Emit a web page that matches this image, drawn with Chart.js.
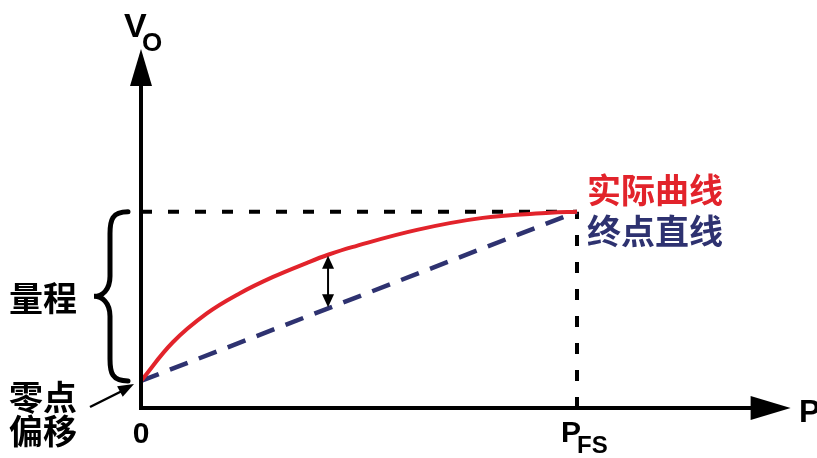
<!DOCTYPE html>
<html>
<head>
<meta charset="utf-8">
<script src="https://cdn.jsdelivr.net/npm/chart.js@4"></script>
<style>
  body { margin: 0; background: #fff; }
</style>
</head>
<body>
<canvas id="chart" width="817" height="458"></canvas>
<script>
const curveX = [0, 0.73, 1.51, 2.27, 3.03, 3.81, 4.29, 4.84, 6.33, 7.84, 9.38, 10];
const curveY = [1.38, 3.35, 4.82, 5.85, 6.68, 7.40, 7.81, 8.20, 9.08, 9.69, 9.95, 10];
// end point straight line
const endLineX = [0, 10];
const endLineY = [1.38, 10];
// full scale guides
const spanX = [0, 10];
const spanY = [10, 10];
const fsX = [10, 10];
const fsY = [0, 10];
// double arrow between curve and line
const gapX = 4.29;
const gapY = [5.08, 7.81];
// axis arrow tips
const axisTipX = 14.9;
const axisTipY = 18.3;

const RED = '#e2232b';
const NAVY = '#2e3270';
const LATIN = '"Liberation Sans", Arial, sans-serif';
const CJK = '"Noto Sans CJK SC", sans-serif';

const toPts = (xs, ys) => xs.map((x, i) => ({ x: x, y: ys[i] }));

function arrowHead(ctx, x, y, dx, dy, len, half) {
  ctx.beginPath();
  ctx.moveTo(x, y);
  ctx.lineTo(x - dx * len - dy * half, y - dy * len + dx * half);
  ctx.lineTo(x - dx * len + dy * half, y - dy * len - dx * half);
  ctx.closePath();
  ctx.fill();
}

const decor = {
  id: 'decor',
  afterDatasetsDraw(chart) {
    const ctx = chart.ctx;
    const sx = chart.scales.x, sy = chart.scales.y;
    const x0 = sx.getPixelForValue(0), y0 = sy.getPixelForValue(0);
    ctx.save();
    ctx.strokeStyle = '#000';
    ctx.fillStyle = '#000';
    ctx.lineCap = 'butt';

    // axes
    const tipY = sy.getPixelForValue(axisTipY);
    const tipX = sx.getPixelForValue(axisTipX);
    ctx.lineWidth = 4;
    ctx.beginPath();
    ctx.moveTo(x0, y0 + 2);
    ctx.lineTo(x0, tipY + 30);
    ctx.moveTo(x0 - 2, y0);
    ctx.lineTo(tipX - 30, y0);
    ctx.stroke();
    arrowHead(ctx, x0, tipY, 0, -1, 37, 11);
    arrowHead(ctx, tipX, y0, 1, 0, 40, 12);

    // double arrow
    const gx = sx.getPixelForValue(gapX);
    const ga = sy.getPixelForValue(gapY[0]) - 1;
    const gb = sy.getPixelForValue(gapY[1]) + 1;
    ctx.lineWidth = 2;
    ctx.beginPath();
    ctx.moveTo(gx, ga - 10);
    ctx.lineTo(gx, gb + 10);
    ctx.stroke();
    arrowHead(ctx, gx, ga, 0, 1, 13, 6);
    arrowHead(ctx, gx, gb, 0, -1, 13, 6);

    // brace for span
    const bt = sy.getPixelForValue(spanY[0]);
    const bb = sy.getPixelForValue(endLineY[0]);
    const bm = (bt + bb) / 2;
    ctx.lineWidth = 5;
    ctx.lineCap = 'round';
    ctx.beginPath();
    ctx.moveTo(128, bt);
    ctx.bezierCurveTo(112, bt, 110, bt + 8, 110, bt + 22);
    ctx.lineTo(110, bm - 20);
    ctx.bezierCurveTo(110, bm - 6, 102, bm, 94, bm);
    ctx.bezierCurveTo(102, bm, 110, bm + 6, 110, bm + 20);
    ctx.lineTo(110, bb - 22);
    ctx.bezierCurveTo(110, bb - 8, 112, bb, 128, bb);
    ctx.stroke();

    // pointer to zero offset
    ctx.lineWidth = 2.5;
    ctx.lineCap = 'butt';
    ctx.beginPath();
    ctx.moveTo(90, 407);
    ctx.lineTo(122, 391);
    ctx.stroke();
    arrowHead(ctx, x0 - 7, bb + 3, 0.88, -0.47, 16, 6);

    // texts
    ctx.textBaseline = 'alphabetic';
    ctx.textAlign = 'left';
    ctx.font = 'bold 34px ' + LATIN;
    ctx.fillText('V', 124, 37);
    ctx.font = 'bold 26px ' + LATIN;
    ctx.fillText('O', 142, 51);
    ctx.font = 'bold 32px ' + LATIN;
    ctx.fillText('P', 799, 422);
    ctx.font = 'bold 30px ' + LATIN;
    ctx.textAlign = 'center';
    ctx.fillText('0', x0, 443);
    const fx = sx.getPixelForValue(fsX[0]);
    ctx.textAlign = 'left';
    ctx.fillText('P', fx - 16, 442);
    ctx.font = 'bold 24px ' + LATIN;
    ctx.fillText('FS', fx, 453);

    ctx.textBaseline = 'middle';
    ctx.font = 'bold 34px ' + CJK;
    ctx.fillStyle = RED;
    ctx.fillText('实际曲线', fx + 10, 190);
    ctx.fillStyle = NAVY;
    ctx.fillText('终点直线', fx + 10, 231);
    ctx.fillStyle = '#000';
    ctx.fillText('量程', 9, 298);
    ctx.fillText('零点', 9, 397);
    ctx.fillText('偏移', 9, 431);
    ctx.restore();
  }
};

new Chart(document.getElementById('chart'), {
  type: 'scatter',
  data: {
    datasets: [
      {
        data: toPts(curveX, curveY),
        showLine: true,
        borderColor: RED,
        borderWidth: 4,
        pointRadius: 0,
        tension: 0.4,
        order: 1,
      },
      {
        data: toPts(endLineX, endLineY),
        showLine: true,
        borderColor: NAVY,
        borderWidth: 4.5,
        borderDash: [19, 12],
        pointRadius: 0,
        order: 2,
      },
      {
        data: toPts(spanX, spanY),
        showLine: true,
        borderColor: '#000',
        borderWidth: 4,
        borderDash: [11, 16],
        pointRadius: 0,
        order: 3,
      },
      {
        data: toPts(fsX, fsY),
        showLine: true,
        borderColor: '#000',
        borderWidth: 4,
        borderDash: [11, 16],
        pointRadius: 0,
        order: 3,
      },
    ],
  },
  options: {
    responsive: false,
    animation: false,
    layout: { padding: { left: 141, right: 22, top: 45, bottom: 50 } },
    scales: {
      x: { type: 'linear', min: 0, max: 15, display: false },
      y: { type: 'linear', min: 0, max: 18.5, display: false },
    },
    plugins: {
      legend: { display: false },
      tooltip: { enabled: false },
    },
  },
  plugins: [decor],
});
</script>
</body>
</html>
